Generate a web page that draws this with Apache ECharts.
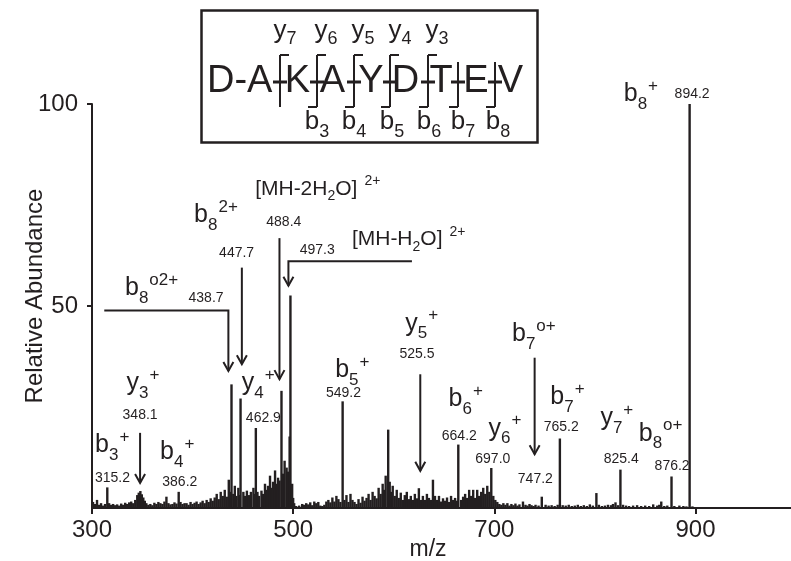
<!DOCTYPE html>
<html>
<head>
<meta charset="utf-8">
<script src="https://cdn.jsdelivr.net/npm/echarts@6/dist/echarts.min.js"></script>
<style>
  html, body { margin: 0; padding: 0; background: #fff; }
  #chart { width: 791px; height: 561px; }
</style>
</head>
<body>
<div id="chart"></div>
<script>
// peaks that carry an m/z label  [m/z, relative abundance]
var ionPeaks = [
  [315.2, 5.1], [348.1, 4.2], [386.2, 4.0], [438.7, 30.6], [447.7, 27.1],
  [462.9, 19.8], [488.4, 29.0], [497.3, 52.6], [549.2, 26.4], [664.2, 15.7],
  [697.0, 9.9], [747.2, 2.8], [765.2, 17.2], [825.4, 9.5], [876.2, 7.8], [894.2, 100]
];
// the rest of the spectrum
var otherPeaks = [
  [301, 1.5], [303, 1.0], [305, 2.0], [307, 0.8], [309, 1.2], [311, 0.6], [313, 1.0], [317, 1.2],
  [319, 0.8], [321, 1.0], [323, 0.7], [325, 0.9], [327, 0.6], [329, 1.1], [331, 0.8], [333, 1.3],
  [335, 1.0], [337, 1.4], [339, 1.6], [341, 1.2], [343, 2.0], [345, 3.2], [346.5, 3.8], [349.5, 3.4],
  [351, 2.6], [352.5, 1.8], [354, 1.2], [356, 0.8], [358, 1.0], [360, 0.7], [362, 1.3], [364, 1.0],
  [366, 1.5], [368, 1.2], [370, 1.0], [372, 1.6], [374, 2.8], [376, 1.2], [378, 0.9], [380, 1.0],
  [382, 1.4], [384, 1.1], [388, 1.5], [390, 1.0], [392, 1.2], [394, 1.2], [396, 0.8], [398, 1.5],
  [400, 1.0], [402, 1.3], [404, 1.6], [406, 1.0], [408, 1.4], [410, 1.8], [412, 1.2], [414, 2.0],
  [416, 1.5], [418, 2.4], [420, 1.8], [422, 2.6], [424, 3.5], [426, 2.2], [428, 4.0], [430, 3.0],
  [432, 4.5], [434, 2.8], [436, 7.0], [437.5, 4.0], [440.5, 3.5], [442, 5.5], [443.5, 3.0], [445.5, 5.0],
  [447, 3.2], [450.5, 4.0], [452, 3.0], [454, 4.3], [456, 3.2], [458, 4.0], [460.5, 5.0], [462, 3.5],
  [464.5, 4.0], [466, 3.0], [468.5, 4.3], [470, 3.5], [472, 6.0], [473.5, 4.5], [475, 5.5], [477, 8.0],
  [478.5, 5.0], [480, 6.5], [482, 9.3], [483.5, 6.0], [485, 7.5], [486.5, 6.8], [490, 8.5], [491.5, 11.7],
  [493.5, 10.0], [495, 9.0], [496.5, 17.7], [499, 6.0], [500, 2.5], [501, 1.2], [503, 0.5], [506, 0.6],
  [509, 1.0], [511, 0.8], [513, 1.2], [515, 0.9], [517, 1.4], [519, 0.7], [521, 1.6], [523, 1.2],
  [525, 1.5], [527, 0.6], [529, 0.5], [531, 0.8], [533, 1.6], [535, 2.0], [537, 1.4], [539, 2.6],
  [541, 1.6], [543, 3.0], [545, 2.2], [547, 1.5], [551, 2.0], [553, 3.2], [555, 1.5], [557, 3.5],
  [559, 2.0], [561, 1.5], [563, 1.0], [565, 2.2], [567, 1.3], [569, 2.8], [571, 1.8], [573, 2.5],
  [575, 3.5], [577, 2.0], [579, 4.0], [581, 3.0], [583, 2.4], [585, 5.0], [587, 3.5], [589, 6.0],
  [590.5, 4.5], [592, 8.0], [594.5, 19.4], [596, 6.5], [597.5, 4.0], [599, 5.5], [601, 3.0], [603, 4.5],
  [605, 2.5], [607, 3.8], [609, 2.0], [611, 3.2], [613, 4.0], [615, 2.2], [617, 3.0], [619, 2.0],
  [621, 3.5], [623, 2.4], [625, 4.9], [627, 2.0], [629, 3.0], [631, 2.0], [633, 3.5], [635, 2.5],
  [637, 2.0], [639, 7.0], [641, 3.0], [643, 2.0], [645, 3.0], [647, 1.6], [649, 2.4], [651, 1.8],
  [653, 2.6], [655, 1.5], [657, 3.0], [659, 2.0], [661, 2.5], [663, 1.8], [667, 2.0], [669, 2.8],
  [671, 3.5], [673, 2.5], [675, 4.5], [677, 3.0], [679, 4.5], [681, 2.5], [683, 4.5], [685, 3.0],
  [687, 4.0], [689, 5.0], [691, 3.5], [693, 5.5], [695, 4.0], [699, 3.0], [701, 2.0], [703, 1.5],
  [705, 1.0], [707, 0.8], [709, 1.2], [711, 0.8], [713, 1.2], [715, 0.6], [717, 1.0], [719, 0.7],
  [721, 1.1], [723, 0.6], [725, 0.9], [728.5, 1.6], [731, 0.8], [733, 0.6], [735, 1.0], [737, 0.7],
  [739, 0.5], [741, 0.8], [744, 0.6], [751, 0.8], [754, 0.6], [757, 0.7], [760, 0.5], [763, 0.8],
  [768, 0.7], [771, 0.6], [774, 0.8], [777, 0.5], [780, 0.6], [783, 0.8], [786, 0.5], [789, 0.7],
  [792, 0.5], [795, 0.9], [798, 0.6], [801.5, 3.7], [804, 0.8], [807, 0.5], [810, 0.6], [813, 0.8],
  [816, 0.7], [818, 1.0], [820.5, 1.4], [823, 0.7], [828, 0.8], [831, 0.6], [834, 0.5], [838, 0.6],
  [842, 0.7], [846, 0.5], [850, 0.6], [854, 0.5], [858, 0.9], [862, 0.6], [864, 0.8], [866, 1.6],
  [869, 0.5], [872, 0.6], [879, 0.5], [884, 0.6], [888, 0.5], [891, 0.4], [897, 0.4]
];
var xTicks = [300, 500, 700, 900];
var yTicks = [50, 100];

// ion names: anchor (m/z, abundance) is left/baseline of the letter
var ionLabels = [
  [303.0, 13.3, 'b', '3', '+'],
  [334.3, 28.7, 'y', '3', '+'],
  [367.7, 11.6, 'b', '4', '+'],
  [332.8, 52.2, 'b', '8', 'o2+'],
  [401.5, 70.3, 'b', '8', '2+'],
  [449.0, 28.7, 'y', '4', '+'],
  [541.8, 31.9, 'b', '5', '+'],
  [611.4, 43.4, 'y', '5', '+'],
  [654.5, 24.8, 'b', '6', '+'],
  [694.3, 17.4, 'y', '6', '+'],
  [717.6, 40.9, 'b', '7', 'o+'],
  [755.7, 25.2, 'b', '7', '+'],
  [805.5, 20.0, 'y', '7', '+'],
  [843.6, 16.2, 'b', '8', 'o+'],
  [828.7, 100.3, 'b', '8', '+']
];
// m/z numbers, centred
var mzLabels = [
  [320.4, 7.5, '315.2'], [347.8, 23.0, '348.1'], [387.3, 6.3, '386.2'], [413.4, 52.0, '438.7'],
  [443.8, 63.1, '447.7'], [470.4, 22.3, '462.9'], [490.7, 70.7, '488.4'], [523.9, 63.9, '497.3'],
  [623.1, 38.0, '525.5'], [550.0, 28.5, '549.2'], [665.2, 17.8, '664.2'], [698.5, 12.1, '697.0'],
  [740.8, 7.1, '747.2'], [766.5, 19.9, '765.2'], [826.2, 12.1, '825.4'], [876.8, 10.4, '876.2'],
  [896.7, 102.5, '894.2']
];
// arrows, last point is the tip
var arrows = [
  [[312.2, 48.9], [435.6, 48.9], [435.6, 33.9]],
  [[449.0, 59.5], [449.0, 35.6]],
  [[486.4, 66.8], [486.4, 31.9]],
  [[618.1, 61.1], [495.3, 61.1], [495.3, 55.0]],
  [[347.8, 18.6], [347.8, 6.2]],
  [[626.4, 33.1], [626.4, 9.2]],
  [[740.1, 37.2], [740.1, 13.3]]
];

var FONT = '"Liberation Sans", Arial, sans-serif';
var INK = '#231f20';

var chart = echarts.init(document.getElementById('chart'));
chart.setOption({
  animation: false,
  grid: {left: 92, right: 0, top: 104, bottom: 53, outerBoundsMode: 'none', containLabel: false},
  xAxis: {
    type: 'value', min: 300, max: 995,
    name: 'm/z', nameLocation: 'middle', nameGap: 30, nameMoveOverlap: false,
    nameTextStyle: {fontFamily: FONT, fontSize: 23, color: INK, padding: [0, 27, 0, 0]},
    axisLine: {show: true, onZero: false, lineStyle: {color: INK, width: 2}},
    axisTick: {show: true, length: 6, customValues: xTicks, lineStyle: {color: INK, width: 2}},
    axisLabel: {fontFamily: FONT, fontSize: 24, color: INK, margin: 10, customValues: xTicks},
    splitLine: {show: false}
  },
  yAxis: {
    type: 'value', min: 0, max: 100,
    name: 'Relative Abundance', nameLocation: 'middle', nameGap: 45, nameMoveOverlap: false,
    nameTextStyle: {fontFamily: FONT, fontSize: 24, color: INK, padding: [0, 0, 0, 20]},
    axisLine: {show: true, lineStyle: {color: INK, width: 2}},
    axisTick: {show: true, length: 5, customValues: yTicks, lineStyle: {color: INK, width: 2}},
    axisLabel: {fontFamily: FONT, fontSize: 24, color: INK, margin: 14, customValues: yTicks},
    splitLine: {show: false}
  },
  series: [{
    type: 'bar',
    data: ionPeaks.concat(otherPeaks),
    barWidth: 2.4,
    itemStyle: {color: INK},
    silent: true
  }]
});

// annotations
var ctx = document.createElement('canvas').getContext('2d');
function textW (t, size) {
  ctx.font = size + 'px ' + FONT;
  return ctx.measureText(t).width;
}
function txt (t, x, baseY, size, align) {
  return {
    type: 'text', silent: true,
    style: {text: t, x: x, y: baseY - 0.35 * size, font: size + 'px ' + FONT, fill: INK,
      textAlign: align || 'left', textVerticalAlign: 'middle'}
  };
}
function runs (x, baseY, parts) {
  var out = [];
  parts.forEach(function (p) {
    if (!p[0]) return;
    out.push(txt(p[0], x + (p[3] || 0), baseY + p[2], p[1]));
    x += textW(p[0], p[1]) + (p[3] || 0);
  });
  return out;
}
function line (pts, w) {
  return {type: 'polyline', silent: true, shape: {points: pts},
    style: {stroke: INK, lineWidth: w || 2, fill: null}};
}
function px (p) { return chart.convertToPixel({gridIndex: 0}, p); }

var g = [];
ionLabels.forEach(function (l) {
  var p = px([l[0], l[1]]);
  g = g.concat(runs(p[0], p[1], [[l[2], 25, 0], [l[3], 17, 7], [l[4], 17, -11, 1]]));
});
mzLabels.forEach(function (l) {
  var p = px([l[0], l[1]]);
  g.push({type: 'text', silent: true, style: {text: l[2], x: p[0], y: p[1],
    font: '14px ' + FONT, fill: INK, textAlign: 'center', textVerticalAlign: 'middle'}});
});
var w1 = px([462.2, 77.2]);
g = g.concat(runs(w1[0], w1[1], [['[MH-2H', 21, 0], ['2', 14, 5], ['O]', 21, 0], ['2+', 14, -10, 7]]));
var w2 = px([558.4, 64.6]);
g = g.concat(runs(w2[0], w2[1], [['[MH-H', 21, 0], ['2', 14, 5], ['O]', 21, 0], ['2+', 14, -10, 7]]));
arrows.forEach(function (a) {
  var pts = a.map(px);
  var t = pts[pts.length - 1];
  g.push(line(pts, 2));
  g.push(line([[t[0] - 5, t[1] - 9], t, [t[0] + 5, t[1] - 9]], 2));
});

// peptide sequence inset
g.push({type: 'rect', silent: true, shape: {x: 201.5, y: 10.5, width: 336, height: 132},
  style: {stroke: INK, lineWidth: 2.5, fill: '#fff'}});
g.push(txt('D-A', 207, 95, 38));
[['K', 297.5], ['A', 332.5], ['Y', 371], ['D', 405.5], ['T', 441], ['E', 476], ['V', 510.5]].forEach(function (c) {
  g.push(txt(c[0], c[1], 95, 38, 'center'));
});
var cuts = [[280, 1, 0], [317, 1, 1], [354, 1, 1], [390, 1, 1], [428, 1, 1], [458, 0, 1], [495, 0, 1]];
cuts.forEach(function (c) {
  var bx = c[0];
  g.push(line([[bx - 7, 82], [bx + 7, 82]], 3));
  g.push(line([[bx, c[1] ? 55 : 62], [bx, 107]], 2));
  if (c[1]) g.push(line([[bx, 55], [bx + 9, 55]], 2));
  if (c[2]) g.push(line([[bx - 9, 107], [bx, 107]], 2));
});
[['7', 285], ['6', 326], ['5', 363], ['4', 400], ['3', 437]].forEach(function (c) {
  var w = textW('y', 26) + textW(c[0], 18);
  g = g.concat(runs(c[1] - w / 2, 40, [['y', 26, 0], [c[0], 18, 5]]));
});
[['3', 317], ['4', 354], ['5', 392], ['6', 429], ['7', 463], ['8', 498]].forEach(function (c) {
  var w = textW('b', 26) + textW(c[0], 18);
  g = g.concat(runs(c[1] - w / 2, 131, [['b', 26, 0], [c[0], 18, 7]]));
});

chart.setOption({graphic: {elements: g}});
window.onresize = chart.resize;
</script>
</body>
</html>
